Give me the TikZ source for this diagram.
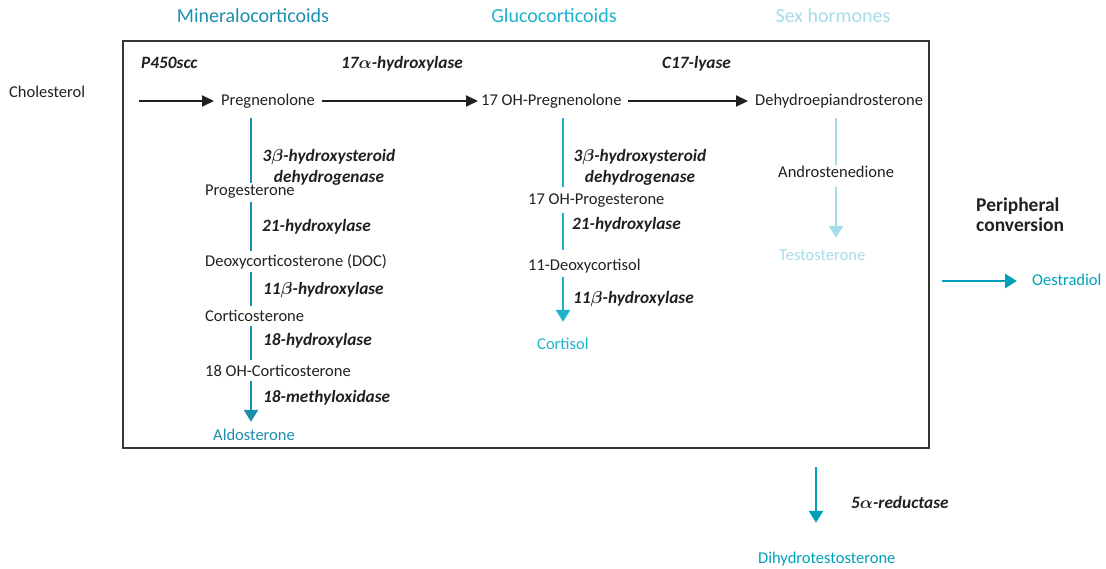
\documentclass[tikz,border=0pt]{standalone}
\usepackage{fontspec}
\setmainfont{Carlito}
\usetikzlibrary{arrows.meta}
\definecolor{ink}{RGB}{35,31,32}
\definecolor{mineral}{RGB}{27,143,173}
\definecolor{gluco}{RGB}{28,178,204}
\definecolor{sexh}{RGB}{166,220,232}
\definecolor{periph}{RGB}{0,160,185}

\begin{document}
\begin{tikzpicture}[x=1pt,y=-1pt,
  every node/.style={inner sep=0pt, text=ink},
  cmpd/.style={anchor=west, font=\fontsize{16.5}{20}\selectfont, text height=12pt, text depth=4pt},
  enz/.style={anchor=west, font=\fontsize{17.3}{21}\selectfont\bfseries\itshape, text height=12pt, text depth=4pt},
  enzpair/.style={anchor=center, align=center, font=\fontsize{17.3}{21}\selectfont\bfseries\itshape},
  note/.style={anchor=west, align=left, font=\fontsize{19.5}{20}\selectfont\bfseries},
  head/.style={anchor=center, font=\fontsize{20}{24}\selectfont},
  rxn/.style={line width=2pt, draw=ink, -{Triangle[length=12pt,width=11pt]}},
  vline/.style={line width=2.6pt},
  vtip/.style={-{Triangle[length=12pt,width=14pt]}},
]
\useasboundingbox (0,0) rectangle (1106,568);

% frame around the adrenal pathways
\draw[line width=1.3pt, draw=ink!90] (123,41) rectangle (929,448);

% class headings
\node[head, text=mineral] (hmin) at (253,16) {Mineralocorticoids};
\node[head, text=gluco]   (hglu) at (554,16) {Glucocorticoids};
\node[head, text=sexh]    (hsex) at (833,16) {Sex hormones};

% compounds
\node[cmpd] (chol)   at (9,93)    {Cholesterol};
\node[cmpd] (preg)   at (221,101) {Pregnenolone};
\node[cmpd] (ohpreg) at (481,101) {17 OH-Pregnenolone};
\node[cmpd] (dhea)   at (755,101) {Dehydroepiandrosterone};

\node[cmpd] (prog)    at (205,191) {Progesterone};
\node[cmpd] (doc)     at (205,262) {Deoxycorticosterone (DOC)};
\node[cmpd] (cortico) at (205,317) {Corticosterone};
\node[cmpd] (ohcort)  at (205,372) {18 OH-Corticosterone};
\node[cmpd, text=mineral] (aldo) at (213,436) {Aldosterone};

\node[cmpd] (ohprog) at (528,200) {17 OH-Progesterone};
\node[cmpd] (deoxc)  at (528,266) {11-Deoxycortisol};
\node[cmpd, text=gluco] (cortisol) at (537,345) {Cortisol};

\node[cmpd] (andro) at (778,173) {Androstenedione};
\node[cmpd, text=sexh] (testo) at (779,256) {Testosterone};

\node[note] (periphnote) at (976,215) {Peripheral\\conversion};
\node[cmpd, text=periph] (oestr) at (1032,281) {Oestradiol};
\node[cmpd, text=periph] (dht)   at (758,559) {Dihydrotestosterone};

% enzymes
\node[enz] (escc)   at (141,64) {P450scc};
\node[enz] (e17a)   at (341,64) {17{\boldmath$\alpha$}-hydroxylase};
\node[enz] (elyase) at (662,64) {C17-lyase};

\node[enzpair] (ehsdL) at (329,167.5) {3{\boldmath$\beta$}-hydroxysteroid\\dehydrogenase};
\node[enz] (e21L) at (262,227) {21-hydroxylase};
\node[enz] (e11L) at (263,290) {11{\boldmath$\beta$}-hydroxylase};
\node[enz] (e18L) at (263,341) {18-hydroxylase};
\node[enz] (emoL) at (263,398) {18-methyloxidase};

\node[enzpair] (ehsdM) at (640,167.5) {3{\boldmath$\beta$}-hydroxysteroid\\dehydrogenase};
\node[enz] (e21M) at (572,225) {21-hydroxylase};
\node[enz] (e11M) at (573,299) {11{\boldmath$\beta$}-hydroxylase};

\node[enz] (e5a) at (851,504) {5{\boldmath$\alpha$}-reductase};

% column axes and free arrow starts
\coordinate (colL) at (251,0);
\coordinate (colM) at (563,0);
\coordinate (colR) at (836,0);
\coordinate (cholstart) at (139,101);
\coordinate (oestart) at (942,281);
\coordinate (dhtstart) at (816,467);

% main horizontal chain
\draw[rxn, shorten >=7pt] (cholstart) -- (preg.west);
\draw[rxn, shorten <=7pt, shorten >=3pt] (preg.east) -- (ohpreg.west);
\draw[rxn, shorten <=6pt, shorten >=7pt] (ohpreg.east) -- (dhea.west);

% mineralocorticoid branch
\draw[vline, mineral, shorten <=9pt] (preg.south -| colL) -- (prog.north -| colL);
\draw[vline, mineral, shorten <=3pt, shorten >=3pt] (prog.south -| colL) -- (doc.north -| colL);
\draw[vline, mineral, shorten <=2pt, shorten >=3pt] (doc.south -| colL) -- (cortico.north -| colL);
\draw[vline, mineral, shorten <=1pt, shorten >=4pt] (cortico.south -| colL) -- (ohcort.north -| colL);
\draw[vline, vtip, mineral, shorten <=1pt, shorten >=6pt] (ohcort.south -| colL) -- (aldo.north -| colL);

% glucocorticoid branch
\draw[vline, gluco, shorten <=9pt, shorten >=5pt] (ohpreg.south -| colM) -- (ohprog.north -| colM);
\draw[vline, gluco, shorten <=5pt, shorten >=8pt] (ohprog.south -| colM) -- (deoxc.north -| colM);
\draw[vline, vtip, gluco, shorten <=3pt, shorten >=15pt] (deoxc.south -| colM) -- (cortisol.north -| colM);

% sex hormone branch
\draw[vline, sexh, shorten <=9pt] (dhea.south -| colR) -- (andro.north -| colR);
\draw[vline, vtip, sexh, shorten <=6pt, shorten >=10pt] (andro.south -| colR) -- (testo.north -| colR);

% peripheral conversions
\draw[line width=2.9pt, vtip, periph, shorten >=15pt] (oestart) -- (oestr.west);
\draw[line width=2.9pt, vtip, periph, shorten >=28pt] (dhtstart) -- (dht.north -| dhtstart);
\end{tikzpicture}
\end{document}
